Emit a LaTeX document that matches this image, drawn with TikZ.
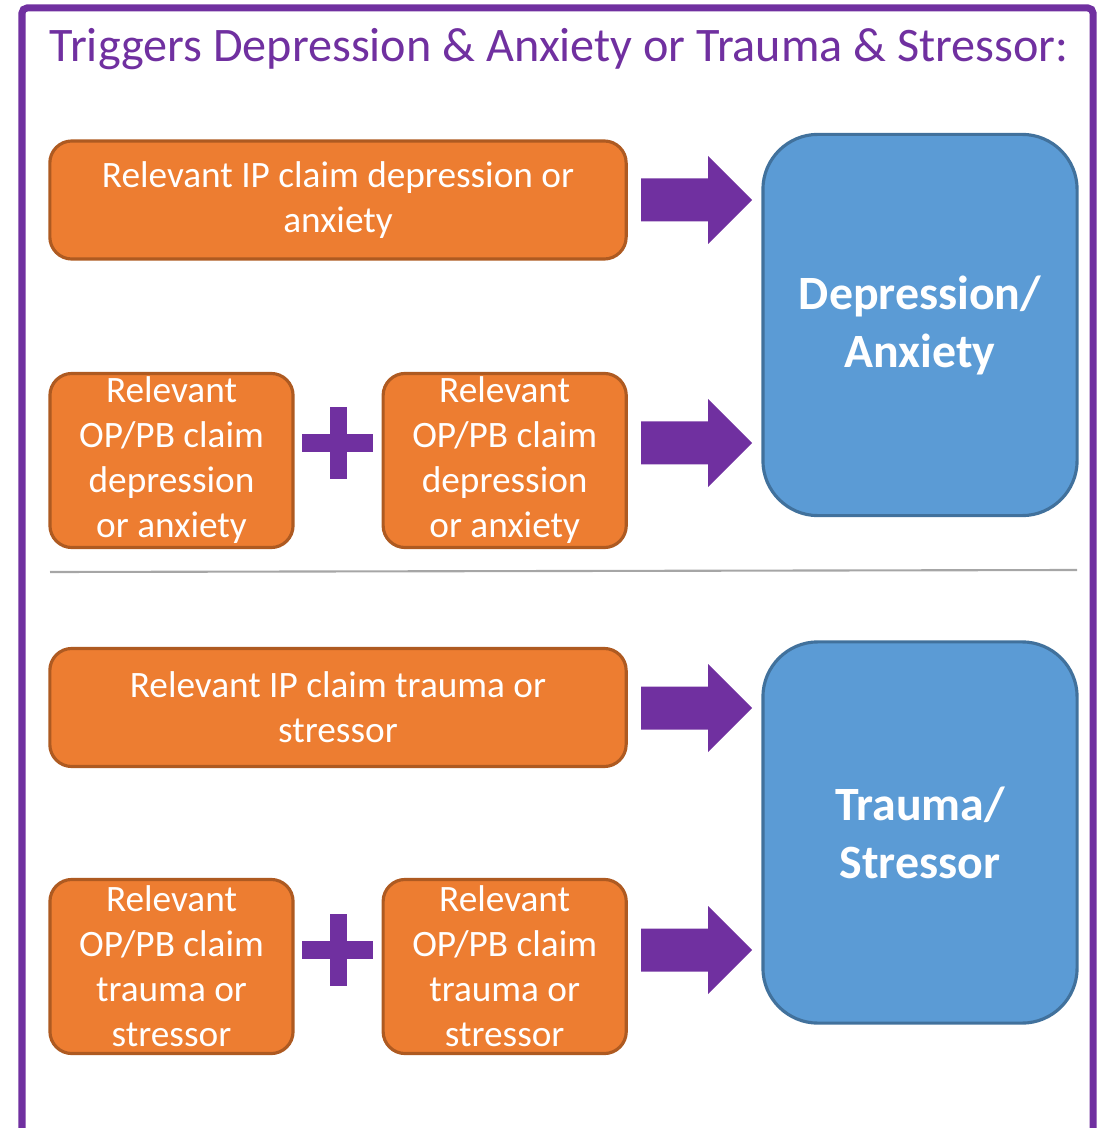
\documentclass[tikz,border=0pt]{standalone}
\usepackage{fontspec}
\setmainfont{Carlito}
\usetikzlibrary{positioning}
\definecolor{ppurple}{HTML}{7030A0}
\definecolor{porange}{HTML}{ED7D31}
\definecolor{porangeline}{HTML}{AE5A21}
\definecolor{pblue}{HTML}{5B9BD5}
\definecolor{pblueline}{HTML}{41719C}

\begin{document}
\begin{tikzpicture}[x=0.01cm,y=-0.01cm,node distance=3.33cm]
\tikzstyle {box}=[rectangle, rounded corners=0.22cm, fill=porange, draw=porangeline, line width=0.9pt, text=white, align=center, inner sep=0pt, font=\fontsize{10.6}{12.8}\selectfont, execute at begin node={\rule{0pt}{1.22em}}]
\tikzstyle {wide}=[box, minimum width=5.76cm, minimum height=1.18cm]
\tikzstyle {small}=[box, minimum width=2.43cm, minimum height=1.74cm]
\tikzstyle {target}=[rectangle, rounded corners=0.55cm, fill=pblue, draw=pblueline, line width=0.9pt, text=white, align=center, minimum width=3.14cm, minimum height=3.81cm, font=\bfseries\fontsize{13.6}{16.5}\selectfont, execute at begin node={\rule{0pt}{1.3em}}]
\tikzstyle {arw}=[fill=ppurple]
\useasboundingbox (0,0) rectangle (1102,1128);
\begin{scope}
\clip (0,0) rectangle (1102,1128);
\draw[ppurple, line width=0.07cm, rounded corners=0.05cm] (22,8) rectangle (1093,1200);
\end{scope}
\node (title) [anchor=base west, inner sep=0pt, text=ppurple, font=\fontsize{13.7}{16}\selectfont] at (49,62) {Triggers Depression \& Anxiety or Trauma \& Stressor:};
% depression / anxiety
\node (ip1) [wide] at (338,200) {Relevant IP claim depression or\\anxiety};
\node (op1a) [small] at (171.5,460.5) {Relevant\\OP/PB claim\\depression\\or anxiety};
\node (op1b) [small, right of=op1a] {Relevant\\OP/PB claim\\depression\\or anxiety};
\node (da) [target] at (920,325) {Depression/\\Anxiety};
\draw[gray!70, line width=0.6pt] (50,572) -- (1077,570);
% trauma / stressor
\node (ip2) [wide] at (338,707.5) {Relevant IP claim trauma or\\stressor};
\node (op2a) [small] at (171.5,966.5) {Relevant\\OP/PB claim\\trauma or\\stressor};
\node (op2b) [small, right of=op2a] {Relevant\\OP/PB claim\\trauma or\\stressor};
\node (ts) [target] at (920,832.5) {Trauma/\\Stressor};
% arrows and plus signs
\foreach \y in {200,443,708,950}
  \fill[arw, shift={(0,\y)}] (641,-21.5) -- (708,-21.5) -- (708,-44) -- (752,0) -- (708,44) -- (708,21.5) -- (641,21.5) -- cycle;
\foreach \y in {443,950} {
  \fill[arw, shift={(0,\y)}] (302,-9) rectangle (373,9);
  \fill[arw, shift={(0,\y)}] (329.5,-36) rectangle (346.5,36);
}
\end{tikzpicture}
\end{document}
